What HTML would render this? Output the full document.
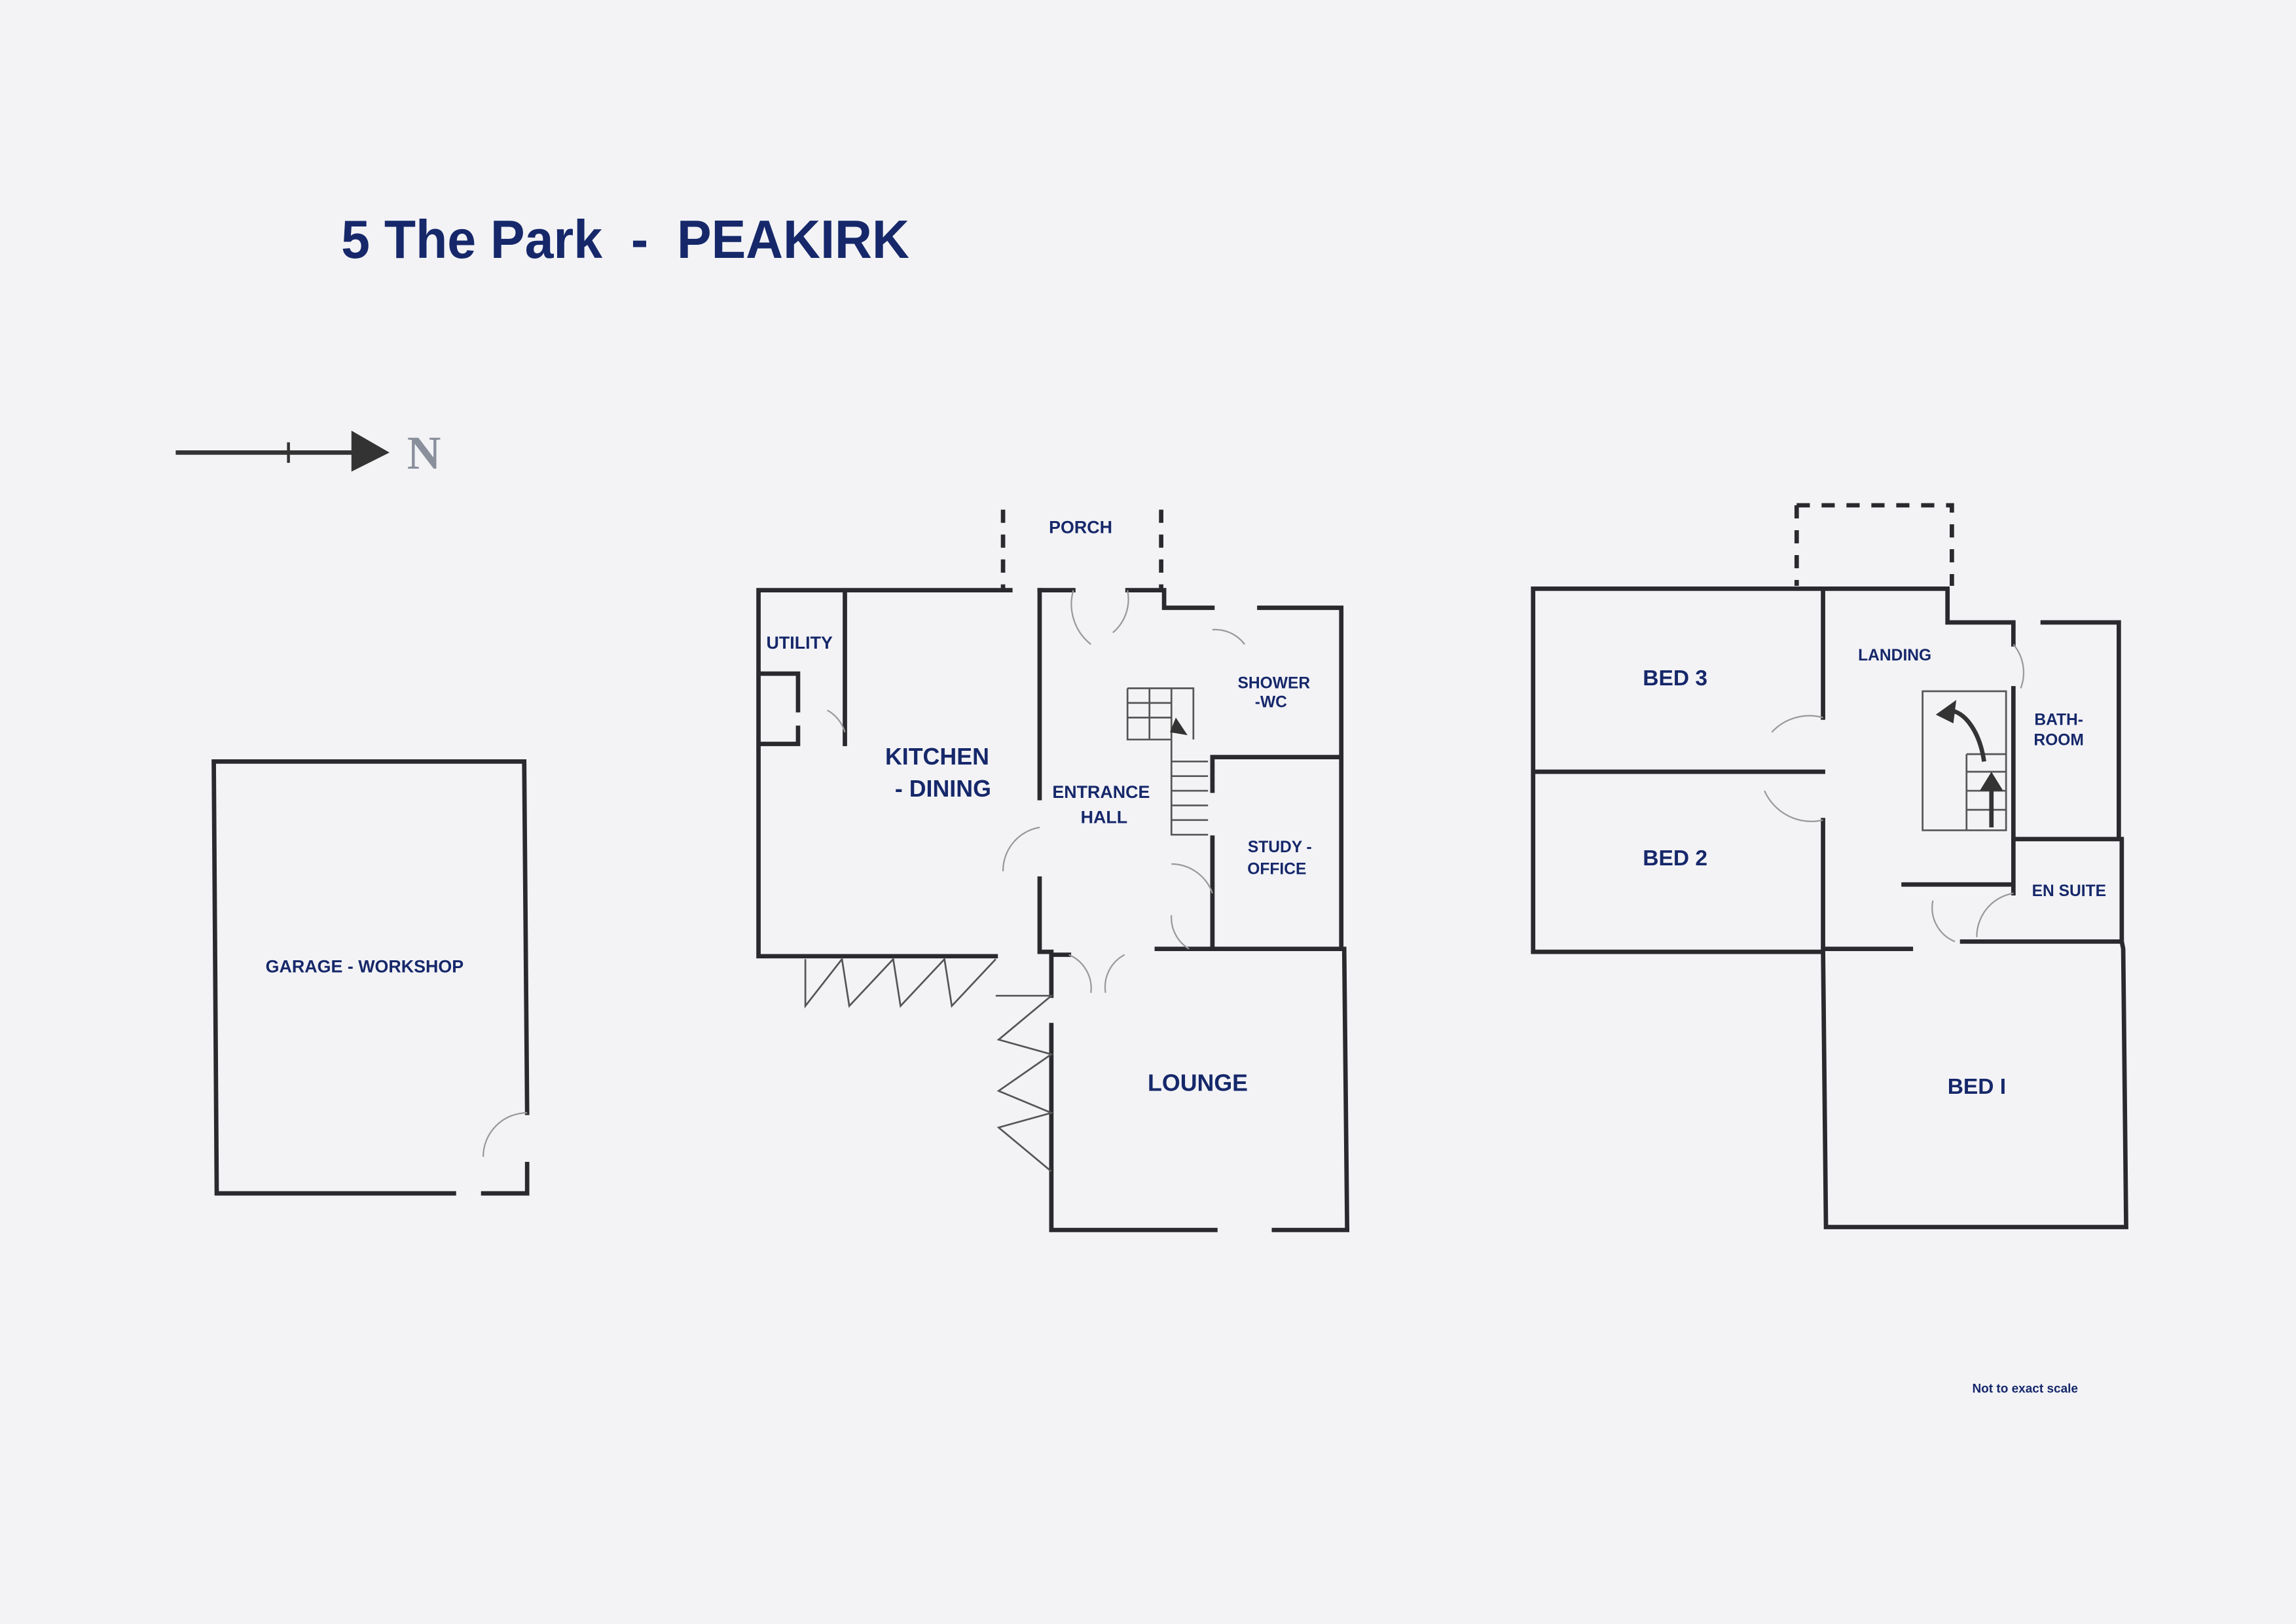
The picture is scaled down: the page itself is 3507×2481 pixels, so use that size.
<!DOCTYPE html>
<html><head><meta charset="utf-8"><style>
html,body{margin:0;padding:0;background:#f3f3f6;}
svg{display:block;}
text{font-family:"Liberation Sans",sans-serif;fill:#16286a;font-weight:bold;}
.w{stroke:#2a2a2e;stroke-width:3;fill:none;stroke-linecap:square;}
.t{stroke:#555;stroke-width:1.2;fill:none;}
.d{stroke:#2a2a2e;stroke-width:3;fill:none;stroke-dasharray:9 8;}
.a{stroke:#999;stroke-width:1;fill:none;}
</style></head><body>
<svg width="3507" height="2481" viewBox="0 0 1568 1109" xmlns="http://www.w3.org/2000/svg">
<rect width="1568" height="1109" fill="#f3f3f6"/>
<text x="233" y="176" font-size="37" textLength="388" lengthAdjust="spacingAndGlyphs">5 The Park&#160;&#160;-&#160;&#160;PEAKIRK</text>
<!-- north arrow -->
<line x1="120" y1="309" x2="245" y2="309" stroke="#333" stroke-width="3"/>
<line x1="197" y1="302" x2="197" y2="316" stroke="#333" stroke-width="2"/>
<polygon points="240,294 266,309 240,322" fill="#333"/>
<text x="278" y="320" font-size="32" style="font-family:'Liberation Serif',serif;fill:#8a8f9c">N</text>
<!-- garage -->
<path class="w" d="M310,815 L148,815 L146,520 L358,520 L360,760 M330,815 L360,815 L360,795"/>
<path class="a" d="M330,790 A30,30 0 0 1 360,760"/>
<text x="249" y="664" font-size="12" text-anchor="middle">GARAGE - WORKSHOP</text>
<!-- ground floor -->
<path class="w" d="M690,403 L518,403 L518,653 L680,653 M710,403 L710,545 M710,600 L710,650 L718,650 M577,403 L577,508 M518,460 L545,460 L545,485 M545,497 L545,508 L518,508"/>
<path class="w" d="M710,403 L733,403 M770,403 L795,403 L795,415 L828,415 M860,415 L916,415 L916,648 L918,648 L920,840 L870,840 M830,840 L718,840 L718,700 M718,680 L718,652 L730,652 M790,648 L916,648 M828,517 L916,517 M828,517 L828,540 M828,572 L828,648 M805,648 L790,648"/>
<path class="d" d="M685,348 L685,403 M793,348 L793,403"/>
<path class="t" d="M770,470 L815,470 L815,505 M770,470 L770,505 L800,505 M800,505 L800,570 L825,570 M800,480 L770,480 M800,490 L770,490 M800,520 L825,520 M800,530 L825,530 M800,540 L825,540 M800,550 L825,550 M800,560 L825,560 M785,470 L785,505 M800,470 L800,505"/>
<polygon points="803,490 811,502 799,500" fill="#333"/>
<path class="a" d="M733,403 A35,35 0 0 0 745,440 M770,403 A30,30 0 0 1 760,432 M828,430 A25,25 0 0 1 850,440 M710,565 A30,30 0 0 0 685,595 M800,590 A30,30 0 0 1 828,610 M800,625 A25,25 0 0 0 812,648 M565,485 A25,25 0 0 1 577,500 M730,652 A25,25 0 0 1 745,678 M768,652 A25,25 0 0 0 755,678"/>
<path class="t" d="M550,655 L550,687 L575,655 L580,687 L610,655 L615,687 L645,655 L650,687 L680,655 M680,680 L718,680 L682,710 L718,720 L682,745 L718,760 L682,770 L718,800"/>
<text x="546" y="443" font-size="12" text-anchor="middle">UTILITY</text>
<text x="640" y="522" font-size="16" text-anchor="middle">KITCHEN</text>
<text x="644" y="544" font-size="16" text-anchor="middle">- DINING</text>
<text x="738" y="364" font-size="12" text-anchor="middle">PORCH</text>
<text x="870" y="470" font-size="11" text-anchor="middle">SHOWER</text>
<text x="868" y="483" font-size="11" text-anchor="middle">-WC</text>
<text x="752" y="545" font-size="12" text-anchor="middle">ENTRANCE</text>
<text x="754" y="562" font-size="12" text-anchor="middle">HALL</text>
<text x="874" y="582" font-size="11" text-anchor="middle">STUDY -</text>
<text x="872" y="597" font-size="11" text-anchor="middle">OFFICE</text>
<text x="818" y="745" font-size="16" text-anchor="middle">LOUNGE</text>
<!-- first floor -->
<path class="w" d="M1047,402 L1047,650 L1245,650 M1047,527 L1245,527 M1047,402 L1245,402 L1330,402 L1330,425 L1375,425 M1395,425 L1447,425 L1447,573 L1449,573 L1449,643 L1450,648 L1452,838 L1247,838 L1245,648 L1305,648 M1245,402 L1245,490 M1245,560 L1245,648 M1300,604 L1375,604 L1375,610 M1375,425 L1375,440 M1375,470 L1375,604 M1375,573 L1449,573 M1340,643 L1449,643"/>
<path class="d" d="M1227,345 L1333,345 L1333,400 M1227,345 L1227,400"/>
<path class="t" d="M1313,472 L1370,472 L1370,567 L1313,567 Z M1343,515 L1370,515 M1343,515 L1343,567 M1343,527 L1370,527 M1343,540 L1370,540 M1343,553 L1370,553"/>
<path d="M1355,520 C1352,500 1342,485 1330,485" stroke="#333" stroke-width="3" fill="none"/>
<polygon points="1322,488 1336,478 1334,494" fill="#333"/>
<line x1="1360" y1="565" x2="1360" y2="535" stroke="#333" stroke-width="3"/>
<polygon points="1352,540 1360,527 1368,540" fill="#333"/>
<path class="a" d="M1245,490 A35,35 0 0 0 1210,500 M1245,560 A35,35 0 0 1 1205,540 M1375,440 A30,30 0 0 1 1380,470 M1320,615 A25,25 0 0 0 1335,643 M1375,610 A30,30 0 0 0 1350,640"/>
<text x="1144" y="468" font-size="15" text-anchor="middle">BED 3</text>
<text x="1144" y="591" font-size="15" text-anchor="middle">BED 2</text>
<text x="1294" y="451" font-size="11" text-anchor="middle">LANDING</text>
<text x="1406" y="495" font-size="11" text-anchor="middle">BATH-</text>
<text x="1406" y="509" font-size="11" text-anchor="middle">ROOM</text>
<text x="1413" y="612" font-size="11" text-anchor="middle">EN SUITE</text>
<text x="1350" y="747" font-size="15" text-anchor="middle">BED I</text>
<text x="1383" y="951" font-size="8.5" text-anchor="middle">Not to exact scale</text>
</svg>
</body></html>
